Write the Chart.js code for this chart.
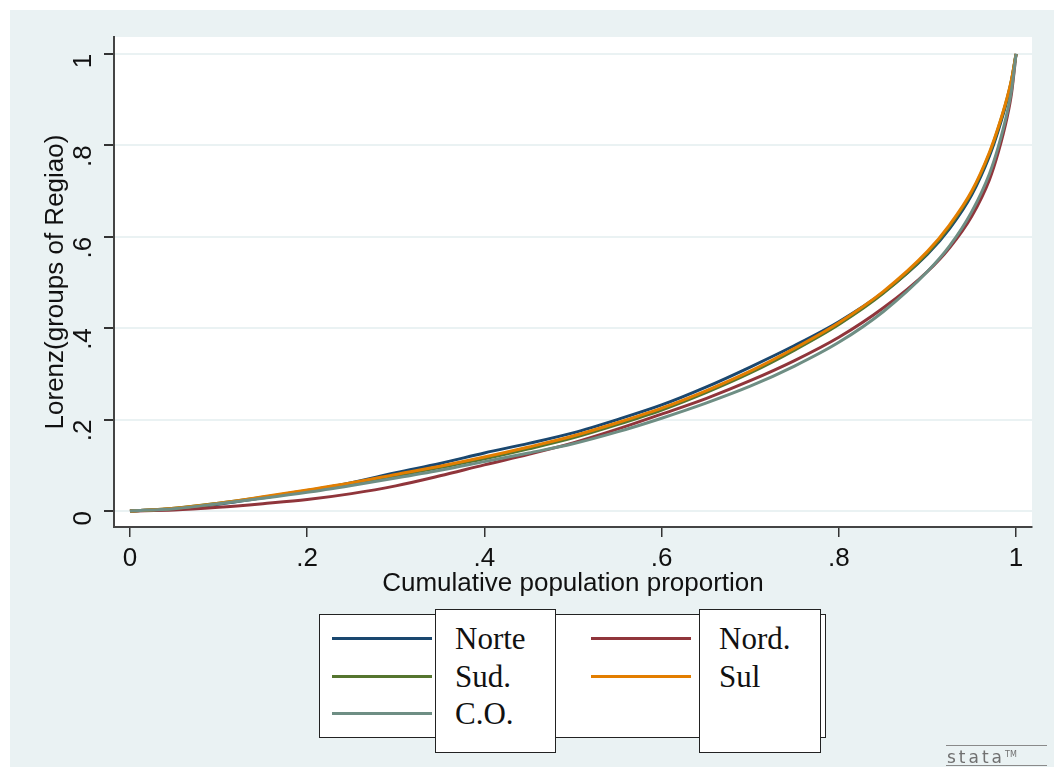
<!DOCTYPE html>
<html>
<head>
<meta charset="utf-8">
<script src="https://cdn.jsdelivr.net/npm/chart.js@4.4.0/dist/chart.umd.min.js"></script>
<style>
body{margin:0;background:#fff;width:1054px;height:767px;overflow:hidden;position:relative}
#bg{position:absolute;left:10px;top:10px;width:1044px;height:757px;background:#eaf2f3}
#myChart{position:absolute;left:0;top:0}
.box{position:absolute;background:#fff;border:1.5px solid #222;box-sizing:border-box}
.sample{position:absolute;height:3px}
.lab{position:absolute;font-family:"Liberation Serif","Times New Roman",serif;font-size:31px;color:#111;line-height:1;transform:translateY(-50%)}
#logo{position:absolute;left:946px;top:745px;width:101px;height:21px;border-top:1px solid #8a8a8a;border-bottom:1px solid #8a8a8a;box-sizing:border-box;font-family:"DejaVu Sans",sans-serif;font-size:17px;line-height:17px;letter-spacing:3px;color:#707070;text-align:left;padding-left:1px;white-space:nowrap}
#logo sup{font-size:8px;letter-spacing:0;vertical-align:6px}
</style>
</head>
<body>
<div id="bg"></div>
<canvas id="myChart" width="1054" height="767"></canvas>

<div class="box" style="left:319px;top:614px;width:507px;height:124px"></div>
<div class="box" style="left:435px;top:609px;width:121px;height:144px"></div>
<div class="box" style="left:699px;top:609px;width:122px;height:144px"></div>
<div id="legend"></div>
<div id="logo">stata<sup>TM</sup></div>

<script>
// Lorenz curves, share of population (x) vs cumulative share (y)
const popShare = [0, .05, .1, .15, .2, .25, .3, .35, .4, .45, .5, .55, .6, .65, .7, .75, .8, .85, .9, .925, .95, .97, .98, .99, .995, 1];
const norte = [0, .005, .015, .029, .044, .062, .084, .104, .127, .148, .171, .200, .232, .271, .315, .362, .414, .478, .562, .618, .692, .777, .833, .900, .942, 1];
const nord = [0, .002, .008, .016, .025, .038, .055, .077, .101, .124, .149, .179, .212, .246, .285, .329, .380, .444, .524, .576, .645, .725, .785, .862, .915, 1];
const sud = [0, .006, .017, .030, .045, .060, .077, .095, .114, .136, .160, .189, .221, .259, .302, .352, .408, .476, .564, .622, .697, .782, .838, .903, .944, 1];
const sul = [0, .006, .017, .031, .046, .062, .080, .098, .118, .140, .164, .193, .225, .263, .306, .356, .412, .480, .568, .626, .700, .785, .840, .905, .945, 1];
const centroOeste = [0, .005, .016, .028, .041, .056, .072, .089, .108, .127, .147, .173, .203, .236, .273, .317, .369, .436, .524, .580, .655, .738, .797, .872, .922, 1];

const seriesNames = ['Norte', 'Nord.', 'Sud.', 'Sul', 'C.O.'];
const seriesData = [norte, nord, sud, sul, centroOeste];
const seriesColors = ['#1a476f', '#90353b', '#55752f', '#e37e00', '#6e8e84'];
const drawOrder = [4, 3, 2, 1, 0]; // C.O. ends up on top

const tickValues = [0, .2, .4, .6, .8, 1];
const tickLabels = ['0', '.2', '.4', '.6', '.8', '1'];

// legend drawn as html, stata style
const legendSpots = [
    { x: 332, y: 638, tx: 455 },
    { x: 591, y: 638, tx: 719 },
    { x: 332, y: 676, tx: 455 },
    { x: 591, y: 676, tx: 719 },
    { x: 332, y: 713, tx: 455 },
];
const legend = document.getElementById('legend');
seriesNames.forEach((name, i) => {
    const s = legendSpots[i];
    const line = document.createElement('div');
    line.className = 'sample';
    line.style.cssText = `left:${s.x}px;top:${s.y - 1.5}px;width:100px;background:${seriesColors[i]}`;
    legend.appendChild(line);
    const lab = document.createElement('div');
    lab.className = 'lab';
    lab.style.cssText = `left:${s.tx}px;top:${s.y}px`;
    lab.textContent = name;
    legend.appendChild(lab);
});

const plotBg = {
    id: 'plotBg',
    beforeDraw(chart) {
        const { ctx, chartArea: a } = chart;
        ctx.save();
        ctx.fillStyle = '#ffffff';
        ctx.fillRect(a.left, a.top, a.right - a.left, a.bottom - a.top);
        ctx.restore();
    },
};

const setTicks = scale => { scale.ticks = tickValues.map(v => ({ value: v })); };
const tickText = v => tickLabels[tickValues.indexOf(v)];

const data = {
    datasets: seriesNames.map((name, i) => ({
        label: name,
        data: popShare.map((x, j) => ({ x: x, y: seriesData[i][j] })),
        borderColor: seriesColors[i],
        backgroundColor: seriesColors[i],
        borderWidth: 3,
        pointRadius: 0,
        cubicInterpolationMode: 'monotone',
        order: drawOrder[i],
    })),
};

const config = {
    type: 'line',
    data: data,
    options: {
        responsive: false,
        animation: false,
        layout: { padding: { left: 40, top: 37, right: 22, bottom: 168 } },
        plugins: { legend: { display: false }, tooltip: { enabled: false } },
        scales: {
            x: {
                type: 'linear',
                min: -0.018,
                max: 1.018,
                afterBuildTicks: setTicks,
                afterFit: s => { s.height = 72; },
                grid: { drawOnChartArea: false, tickColor: '#333', tickLength: 10, lineWidth: 1.5 },
                border: { color: '#444', width: 2 },
                ticks: { callback: tickText, font: { family: 'Liberation Sans', size: 26 }, color: '#111', padding: 6, maxRotation: 0 },
                title: { display: true, text: 'Cumulative population proportion', font: { family: 'Liberation Sans', size: 26 }, color: '#111', padding: 0 },
            },
            y: {
                min: -0.035,
                max: 1.037,
                afterBuildTicks: setTicks,
                afterFit: s => { s.width = 74; },
                grid: { color: '#eaf2f3', lineWidth: 2, tickColor: '#333', tickLength: 10 },
                border: { color: '#444', width: 2 },
                ticks: { callback: tickText, font: { family: 'Liberation Sans', size: 26 }, color: '#111', padding: 20, minRotation: 90, maxRotation: 90 },
                title: { display: true, text: 'Lorenz(groups of Regiao)', font: { family: 'Liberation Sans', size: 26 }, color: '#111', padding: 0 },
            },
        },
    },
    plugins: [plotBg],
};

var ctx = document.getElementById('myChart').getContext('2d');
var myChart = new Chart(ctx, config);
</script>
</body>
</html>
